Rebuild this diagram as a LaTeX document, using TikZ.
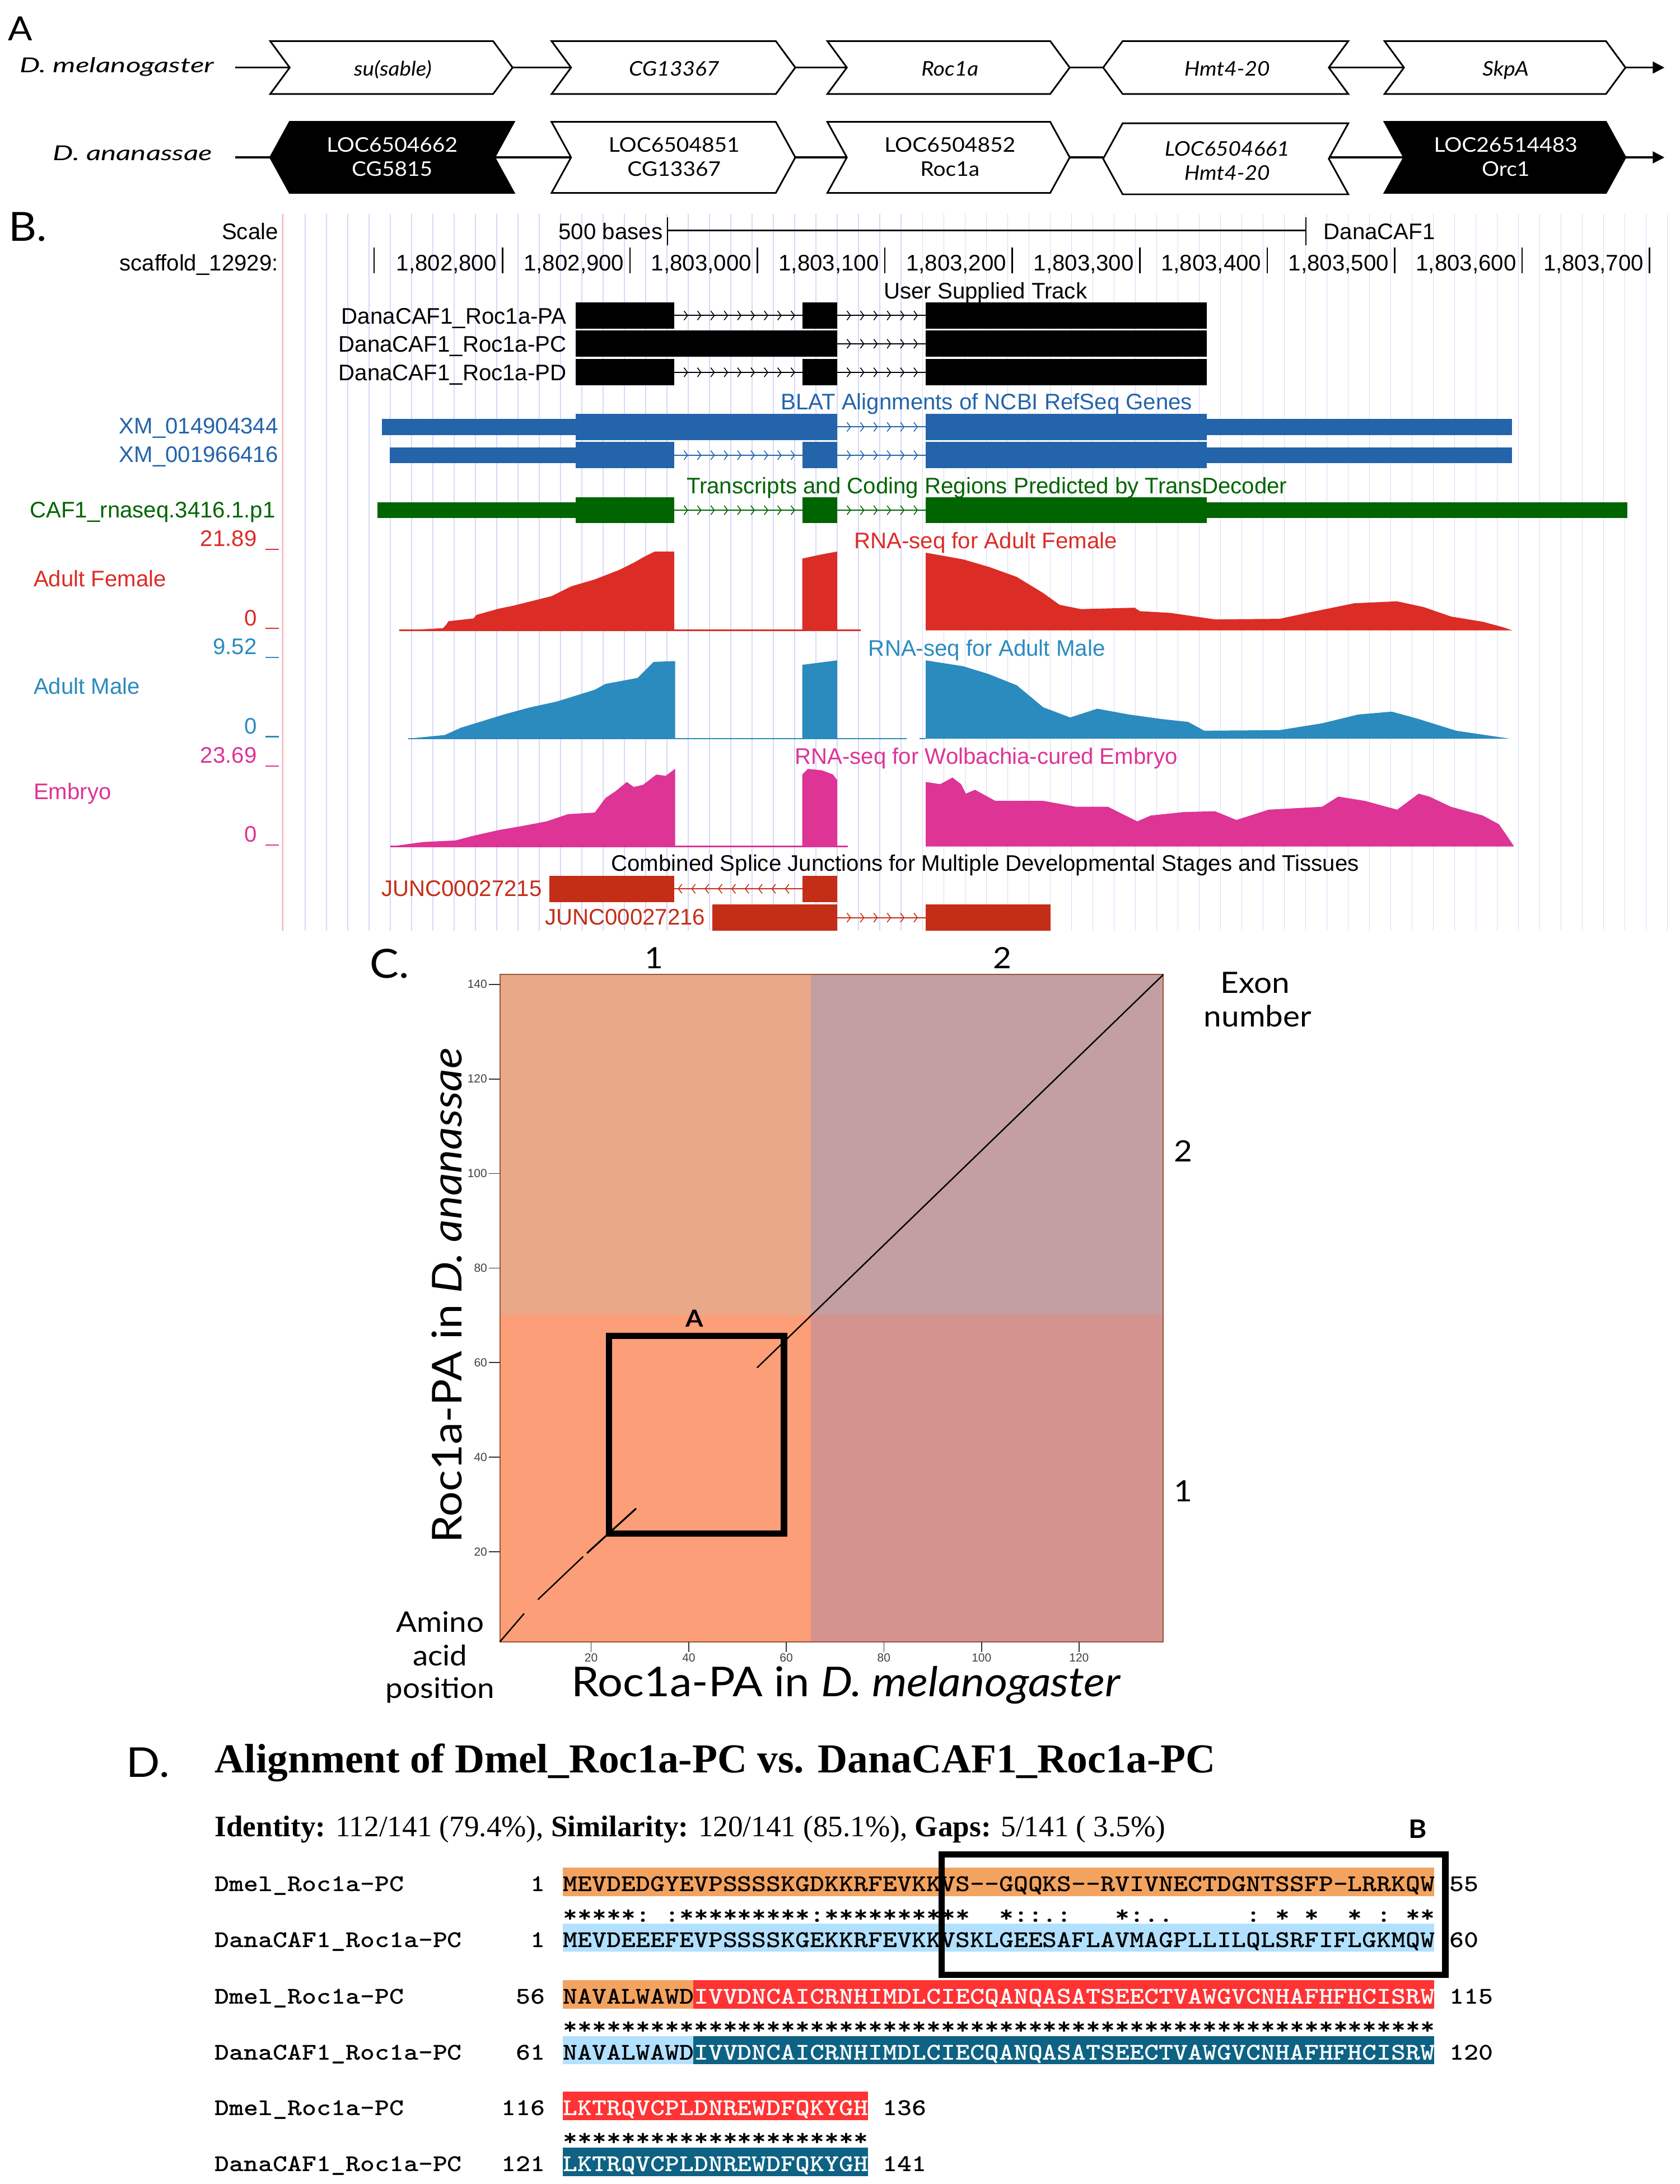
\documentclass[tikz,border=0pt]{standalone}
\usepackage{fontspec}
\setmainfont{Liberation Serif}
\newfontfamily\ucsc{Liberation Sans}
\newfontfamily\av[FakeStretch=1.08]{Lato}
\newfontfamily\avw[FakeStretch=1.4]{Lato}
\newfontfamily\mono[FakeStretch=1.15]{lmmonolt10-bold.otf}
\usetikzlibrary{arrows.meta}
\definecolor{gridc}{RGB}{216,216,250}
\definecolor{redline}{RGB}{245,170,170}
\definecolor{ublue}{RGB}{36,100,170}
\definecolor{ugreen}{RGB}{0,100,0}
\definecolor{fem}{RGB}{220,44,38}
\definecolor{mal}{RGB}{43,139,190}
\definecolor{emb}{RGB}{221,52,150}
\definecolor{junc}{RGB}{196,45,22}
\definecolor{qTL}{RGB}{233,168,136}
\definecolor{qTR}{RGB}{195,159,162}
\definecolor{qBL}{RGB}{252,158,120}
\definecolor{qBR}{RGB}{212,147,143}
\definecolor{qborder}{RGB}{150,85,60}
\definecolor{dmelA}{RGB}{243,163,96}
\definecolor{dmelB}{RGB}{255,51,51}
\definecolor{danaA}{RGB}{178,225,255}
\definecolor{danaB}{RGB}{14,98,131}
\tikzset{
  ut/.style={font=\ucsc\fontsize{11.5}{13}\selectfont, inner sep=0pt},
  gb/.style={draw=black, line width=0.85pt, line join=miter},
  conn/.style={line width=0.95pt},
  glab/.style={font=\av\fontsize{10.3}{12}\selectfont, inner sep=0pt, anchor=base},
  glabi/.style={font=\av\fontsize{10.3}{12}\selectfont\itshape, inner sep=0pt, anchor=base},
  panel/.style={font=\av\fontsize{20.5}{24}\selectfont, inner sep=0pt, anchor=base west},
  cl/.style={font=\av\fontsize{15}{18}\selectfont, inner sep=0pt},
  tick/.style={line width=0.5pt, black!80},
  ticklab/.style={font=\ucsc\fontsize{6}{7}\selectfont, text=black!75, inner sep=0pt},
  mn/.style={font=\mono\fontsize{12.29}{14}\selectfont, inner sep=0pt, anchor=base west},
  mnr/.style={font=\mono\fontsize{12.29}{14}\selectfont, inner sep=0pt, anchor=base east},
  hbox/.style={draw=black, line width=3.2pt}
}
% chevron boxes: x1, x2, ytop, ymid, ybot, style
\newcommand\chevR[6]{\draw[#6] (#1,#3) -- (#2,#3) -- (#2+14,#4) -- (#2,#5) -- (#1,#5) -- (#1+14,#4) -- cycle;}
\newcommand\chevL[6]{\draw[#6] (#1+14,#3) -- (#2+14,#3) -- (#2,#4) -- (#2+14,#5) -- (#1+14,#5) -- (#1,#4) -- cycle;}
% gene model parts: color, x1, x2, y
\newcommand\tkA[4]{\fill[#1] (#2,#4-9.4) rectangle (#3,#4+9.4);}
\newcommand\tnA[4]{\fill[#1] (#2,#4-5.7) rectangle (#3,#4+5.7);}
\newcommand\inR[4]{\draw[#1,line width=0.6pt] (#2,#4) -- (#3,#4);
  \pgfmathtruncatemacro\nch{(#3-#2)/9.6}
  \foreach \k in {1,...,\nch}{\draw[#1,line width=0.45pt] ({#2+\k*9.6-2.5},#4-3.3) -- ({#2+\k*9.6},#4) -- ({#2+\k*9.6-2.5},#4+3.3);}}
\newcommand\inL[4]{\draw[#1,line width=0.6pt] (#2,#4) -- (#3,#4);
  \pgfmathtruncatemacro\nch{(#3-#2)/9.6}
  \foreach \k in {1,...,\nch}{\draw[#1,line width=0.45pt] ({#2+\k*9.6-4},#4-3.3) -- ({#2+\k*9.6-6.5},#4) -- ({#2+\k*9.6-4},#4+3.3);}}
\begin{document}
\begin{tikzpicture}[x=0.025cm,y=-0.025cm]
\useasboundingbox (0,0) rectangle (1206,1568);
\fill[white] (0,0) rectangle (1206,1568);

% ================= Panel A =================
\node[font=\av\fontsize{17}{20}\selectfont, inner sep=0pt, anchor=base west] (pA) at (5.5,29) {A};
\node[font=\avw\fontsize{10.5}{12}\selectfont\itshape, inner sep=0pt, anchor=base east] (spm) at (154,51.9) {D. melanogaster};
\node[font=\avw\fontsize{10.5}{12}\selectfont\itshape, inner sep=0pt, anchor=base east] (spa) at (152.8,115.2) {D. ananassae};

% row 1
\chevR{194}{354}{29.5}{48.5}{67.5}{gb,fill=white}
\chevR{396}{557}{29.5}{48.5}{67.5}{gb,fill=white}
\chevR{594}{754}{29.5}{48.5}{67.5}{gb,fill=white}
\chevL{792}{954}{29.5}{48.5}{67.5}{gb,fill=white}
\chevR{994}{1153}{29.5}{48.5}{67.5}{gb,fill=white}
\coordinate (m0) at (169,48.5);
\coordinate (m1i) at (208,48.5); \coordinate (m1o) at (368,48.5);
\coordinate (m2i) at (410,48.5); \coordinate (m2o) at (571,48.5);
\coordinate (m3i) at (608,48.5); \coordinate (m3o) at (768,48.5);
\coordinate (m4i) at (792,48.5); \coordinate (m4o) at (954,48.5);
\coordinate (m5i) at (1008,48.5); \coordinate (m5o) at (1167,48.5);
\coordinate (mend) at (1195,48.5);
\draw[conn] (m0) -- (m1i);
\draw[conn] (m1o) -- (m2i);
\draw[conn] (m2o) -- (m3i);
\draw[conn] (m3o) -- (m4i);
\draw[conn] (m4o) -- (m5i);
\draw[conn,-{Triangle[length=6pt,width=6pt]}] (m5o) -- (mend);
\node[glabi] (g11) at (282,54.3) {su(sable)};
\node[glabi] (g12) at (484,54.3) {CG13367};
\node[glabi] (g13) at (682,54.3) {Roc1a};
\node[glabi] (g14) at (881,54.3) {Hmt4-20};
\node[glabi] (g15) at (1081,54.3) {SkpA};

% row 2
\chevL{194}{355}{87.5}{113}{138.5}{gb,fill=black}
\chevR{396}{557}{87.5}{113}{138.5}{gb,fill=white}
\chevR{594}{754}{87.5}{113}{138.5}{gb,fill=white}
\chevL{792}{954}{88.5}{114}{139.5}{gb,fill=white}
\chevR{994}{1153}{87.5}{113}{138.5}{gb,fill=black}
\coordinate (a0) at (169,113);
\coordinate (a1i) at (194,113); \coordinate (a1o) at (355,113);
\coordinate (a2i) at (410,113); \coordinate (a2o) at (571,113);
\coordinate (a3i) at (608,113); \coordinate (a3o) at (768,113);
\coordinate (a4i) at (792,113); \coordinate (a4o) at (954,113);
\coordinate (a5i) at (1008,113); \coordinate (a5o) at (1167,113);
\coordinate (aend) at (1195,113);
\draw[conn] (a0) -- (a1i);
\draw[conn] (a1o) -- (a2i);
\draw[conn] (a2o) -- (a3i);
\draw[conn] (a3o) -- (a4i);
\draw[conn] (a4o) -- (a5i);
\draw[conn,-{Triangle[length=6pt,width=6pt]}] (a5o) -- (aend);
\node[glab,text=white] (g21a) at (281.5,109.2) {LOC6504662};
\node[glab,text=white] (g21b) at (281.5,126.6) {CG5815};
\node[glab] (g22a) at (484,109.2) {LOC6504851};
\node[glab] (g22b) at (484,126.6) {CG13367};
\node[glab] (g23a) at (682,109.2) {LOC6504852};
\node[glab] (g23b) at (682,126.6) {Roc1a};
\node[glabi] (g24a) at (881,111.9) {LOC6504661};
\node[glabi] (g24b) at (881,129.3) {Hmt4-20};
\node[glab,text=white] (g25a) at (1081,109.2) {LOC26514483};
\node[glab,text=white] (g25b) at (1081,126.6) {Orc1};

% ================= Panel B =================
\node[panel] (pB) at (5.8,172.9) {B.};
\foreach \i in {0,...,64} {\draw[gridc,line width=0.35pt] ({219.1+15.28*\i},153.5) -- ({219.1+15.28*\i},668);}
\draw[redline,line width=0.45pt] (203,153.5) -- (203,668);

\node[ut,anchor=base east] (scl) at (200,172) {Scale};
\node[ut,anchor=base east] (scf) at (200,194.3) {scaffold\_12929:};
\node[ut,anchor=base east] (b500) at (476,172) {500 bases};
\coordinate (sb1) at (479.3,165.5); \coordinate (sb2) at (937.5,165.5);
\draw[line width=0.75pt] (sb1) -- (sb2);
\draw[line width=0.75pt] (479.3,156) -- (479.3,176);
\draw[line width=0.75pt] (937.5,156) -- (937.5,176);
\node[ut,anchor=base west] (dcaf) at (950,172) {DanaCAF1};
\draw[line width=0.75pt] (268.5,177.5) -- (268.5,196.2);
\foreach \k/\a/\b in {0/802/800,1/802/900,2/803/000,3/803/100,4/803/200,5/803/300,6/803/400,7/803/500,8/803/600,9/803/700}{
  \draw[line width=0.75pt] ({360.8+91.5*\k},177.5) -- ({360.8+91.5*\k},196.2);
  \node[ut,anchor=base east] (r\k) at ({360.8+91.5*\k-4},194.3) {1,\a,\b};
}

% user supplied track
\node[ut,anchor=base] (ust) at (707.5,214.4) {User Supplied Track};
\node[ut,anchor=base east] (tPA) at (407,232.5) {DanaCAF1\_Roc1a-PA};
\node[ut,anchor=base east] (tPC) at (407,252.6) {DanaCAF1\_Roc1a-PC};
\node[ut,anchor=base east] (tPD) at (407,273) {DanaCAF1\_Roc1a-PD};
% PA
\inR{black}{484}{576}{226.5}
\inR{black}{601}{664.6}{226.5}
\tkA{black}{413.5}{484}{226.5}
\tkA{black}{576}{601}{226.5}
\tkA{black}{664.6}{866.5}{226.5}
% PC
\inR{black}{601}{664.6}{246.8}
\tkA{black}{413.5}{601}{246.8}
\tkA{black}{664.6}{866.5}{246.8}
% PD
\inR{black}{484}{576}{267.3}
\inR{black}{601}{664.6}{267.3}
\tkA{black}{413.5}{484}{267.3}
\tkA{black}{576}{601}{267.3}
\tkA{black}{664.6}{866.5}{267.3}

% BLAT
\node[ut,anchor=base,text=ublue] (blat) at (708.3,294) {BLAT Alignments of NCBI RefSeq Genes};
\node[ut,anchor=base east,text=ublue] (xm1) at (200,311.5) {XM\_014904344};
\node[ut,anchor=base east,text=ublue] (xm2) at (200,332) {XM\_001966416};
\inR{ublue}{601}{664.6}{306.5}
\tnA{ublue}{274}{413.5}{306.5}
\tkA{ublue}{413.5}{601}{306.5}
\tkA{ublue}{664.6}{866.5}{306.5}
\tnA{ublue}{866.5}{1085.7}{306.5}
\inR{ublue}{484}{576}{326.8}
\inR{ublue}{601}{664.6}{326.8}
\tnA{ublue}{280}{413.5}{326.8}
\tkA{ublue}{413.5}{484}{326.8}
\tkA{ublue}{576}{601}{326.8}
\tkA{ublue}{664.6}{866.5}{326.8}
\tnA{ublue}{866.5}{1085.7}{326.8}

% TransDecoder
\node[ut,anchor=base,text=ugreen] (tdec) at (708.5,354.3) {Transcripts and Coding Regions Predicted by TransDecoder};
\node[ut,anchor=base east,text=ugreen] (caf) at (198,371.5) {CAF1\_rnaseq.3416.1.p1};
\inR{ugreen}{484}{576}{366.3}
\inR{ugreen}{601}{664.6}{366.3}
\tnA{ugreen}{271}{413.5}{366.3}
\tkA{ugreen}{413.5}{484}{366.3}
\tkA{ugreen}{576}{601}{366.3}
\tkA{ugreen}{664.6}{866.5}{366.3}
\tnA{ugreen}{866.5}{1168.5}{366.3}

% RNA-seq female
\node[ut,anchor=base,text=fem] (rf) at (707.7,394) {RNA-seq for Adult Female};
\node[ut,anchor=base east,text=fem] (vf1) at (184.6,392.1) {21.89};
\node[ut,anchor=base east,text=fem] (vf0) at (184.6,449.4) {0};
\draw[fem,line width=0.7pt] (190.6,394.3) -- (200.2,394.3);
\draw[fem,line width=0.7pt] (190.6,451) -- (200.2,451);
\node[ut,anchor=base west,text=fem] (lf) at (23.9,421.2) {Adult Female};
\draw[fem,line width=0.8pt] (286.6,452.5) -- (618,452.5);
\fill[fem] (286.6,452.5) -- (300,452) -- (318,451) -- (320,449) -- (322,446) -- (340,444) -- (342,441.5) -- (358,437) -- (368,435) -- (380,432) -- (396,428) -- (410,421) -- (427,416) -- (445,409) -- (455,404) -- (462,400) -- (470,396) -- (484,396) -- (484,452.5) -- cycle;
\fill[fem] (576,452.5) -- (576,401) -- (590,398) -- (601,396) -- (601,452.5) -- cycle;
\fill[fem] (664.6,452.5) -- (664.6,396.8) -- (691.5,401.6) -- (710,407) -- (730,414.2) -- (749,425.8) -- (760.7,434.2) -- (776,437.3) -- (814.6,436.3) -- (818.4,438.8) -- (840,440) -- (872.3,444.7) -- (918.5,444.3) -- (941.5,439.4) -- (972.3,433.1) -- (1003,431.7) -- (1022.3,435.9) -- (1041.6,442.6) -- (1064.6,446.4) -- (1078,450) -- (1085.8,452.5) -- cycle;

% RNA-seq male
\node[ut,anchor=base,text=mal] (rm) at (708.5,471) {RNA-seq for Adult Male};
\node[ut,anchor=base east,text=mal] (vm1) at (184.6,469.9) {9.52};
\node[ut,anchor=base east,text=mal] (vm0) at (184.6,527) {0};
\draw[mal,line width=0.7pt] (190.6,472) -- (200.2,472);
\draw[mal,line width=0.7pt] (190.6,528.8) -- (200.2,528.8);
\node[ut,anchor=base west,text=mal] (lm) at (23.9,498.3) {Adult Male};
\draw[mal,line width=0.8pt] (293.1,530.3) -- (651,530.3);
\draw[mal,line width=0.8pt] (660,530.3) -- (664.6,530.3);
\fill[mal] (293.1,530.3) -- (319.3,527.7) -- (330.8,522.5) -- (361.6,513) -- (380,508) -- (400,503.6) -- (427,495.2) -- (434.7,491) -- (457.8,486.7) -- (469.3,475.2) -- (484.7,474.6) -- (484.7,530.3) -- cycle;
\fill[mal] (576,530.3) -- (576,477.3) -- (601,474.1) -- (601,530.3) -- cycle;
\fill[mal] (664.6,530.3) -- (664.6,474.1) -- (691.5,478.3) -- (710,484) -- (730,492) -- (749,507.8) -- (768.4,515.1) -- (787.7,508.8) -- (810.7,513) -- (833.8,516.2) -- (853,518.3) -- (864.6,524.6) -- (918.5,524.2) -- (949.2,519.3) -- (975,513) -- (999.2,510.9) -- (1018.5,516.2) -- (1045.4,524.6) -- (1083.9,530.3) -- cycle;

% RNA-seq embryo
\node[ut,anchor=base,text=emb] (re) at (708,548.7) {RNA-seq for Wolbachia-cured Embryo};
\node[ut,anchor=base east,text=emb] (ve1) at (184.6,547.7) {23.69};
\node[ut,anchor=base east,text=emb] (ve0) at (184.6,604.5) {0};
\draw[emb,line width=0.7pt] (190.6,549.9) -- (200.2,549.9);
\draw[emb,line width=0.7pt] (190.6,606.6) -- (200.2,606.6);
\node[ut,anchor=base west,text=emb] (le) at (23.9,574) {Embryo};
\draw[emb,line width=0.8pt] (280.4,607.7) -- (608.7,607.7);
\fill[emb] (280.4,607.7) -- (303.9,604.5) -- (327,603.4) -- (340,600) -- (357.8,596) -- (375,593) -- (392.4,589.7) -- (407.8,584.5) -- (427,583.4) -- (434.7,572.9) -- (442,568) -- (450,561.4) -- (455,565) -- (461.6,563.5) -- (471.2,556.1) -- (478,557) -- (484.7,551.9) -- (484.7,607.7) -- cycle;
\fill[emb] (576,607.7) -- (576,556) -- (580,552) -- (590,553) -- (598,556) -- (601,560) -- (601,607.7) -- cycle;
\fill[emb] (664.6,607.7) -- (664.6,561.4) -- (675,563) -- (683.8,558.2) -- (690,563) -- (693.4,569.8) -- (700,567) -- (714.6,575) -- (749.2,575) -- (772.3,579.2) -- (795.4,579.2) -- (816.5,589.7) -- (826.1,585.5) -- (850,583) -- (872.3,582.4) -- (887.7,588.7) -- (910.8,581.3) -- (949.2,579.2) -- (960.8,571.9) -- (980,575) -- (1003.1,581.3) -- (1018.5,569.8) -- (1026.2,571.9) -- (1041.6,579.2) -- (1064.6,585.5) -- (1076.2,591.8) -- (1082,600.2) -- (1087,607.7) -- cycle;

% splice junctions
\node[ut,anchor=base] (csj) at (707.3,625.5) {Combined Splice Junctions for Multiple Developmental Stages and Tissues};
\node[ut,anchor=base east,text=junc] (j1) at (389.3,643.5) {JUNC00027215};
\node[ut,anchor=base east,text=junc] (j2) at (506.6,664) {JUNC00027216};
\inL{junc}{484}{576}{638.1}
\tkA{junc}{394.3}{484}{638.1}
\tkA{junc}{576}{601}{638.1}
\inR{junc}{601}{664.6}{658.8}
\tkA{junc}{511.6}{601}{658.8}
\tkA{junc}{664.6}{754.2}{658.8}

% ================= Panel C =================
\node[panel] (pC) at (265.2,702.3) {C.};
\fill[qTL] (358.9,699.7) rectangle (582.3,944.1);
\fill[qTR] (582.3,699.7) rectangle (835.2,944.1);
\fill[qBL] (358.9,944.1) rectangle (582.3,1178.7);
\fill[qBR] (582.3,944.1) rectangle (835.2,1178.7);
\draw[qborder,line width=0.6pt] (358.9,699.7) rectangle (835.2,1178.7);
\foreach \v/\yy in {20/1114.1,40/1046.2,60/978.3,80/910.4,100/842.5,120/774.6,140/706.7}{
  \draw[tick] (351,\yy) -- (358.9,\yy);
  \node[ticklab,anchor=east] (yt\v) at (350,\yy) {\v};
}
\foreach \v/\xx in {20/424.4,40/494.5,60/564.5,80/634.6,100/704.7,120/774.7}{
  \draw[tick] (\xx,1178.7) -- (\xx,1186);
  \node[ticklab,anchor=north] (xt\v) at (\xx,1187) {\v};
}
\draw[line width=0.7pt] (358.9,1178.7) -- (376.3,1158.4);
\draw[line width=0.7pt] (386.2,1148.4) -- (418.7,1117.5);
\draw[line width=0.9pt] (421.4,1115.1) -- (456.7,1083);
\draw[line width=0.7pt] (543.5,982) -- (835.2,699.7);
\draw[hbox] (437.3,959.2) rectangle (562.9,1101.1);
\node[font=\av\fontsize{12}{14}\selectfont\bfseries, inner sep=0pt] (lA) at (498.7,946.6) {A};
\node[cl] (ex1t) at (469.6,687.8) {1};
\node[cl] (ex2t) at (719.8,687.8) {2};
\node[cl] (ex2r) at (849.5,826.5) {2};
\node[cl] (ex1r) at (849.5,1070.5) {1};
\node[cl] (exon) at (901,705.5) {Exon};
\node[cl] (numb) at (903,729.5) {number};
\node[font=\av\fontsize{21}{24}\selectfont, inner sep=0pt, rotate=90] (ylab) at (321,930) {Roc1a-PA in \textit{D. ananassae}};
\node[font=\av\fontsize{21}{24}\selectfont, inner sep=0pt, anchor=base] (xlab) at (607.5,1218) {Roc1a-PA in \textit{D. melanogaster}};
\node[font=\av\fontsize{14.5}{17}\selectfont, inner sep=0pt] (am1) at (316,1164.4) {Amino};
\node[font=\av\fontsize{14.5}{17}\selectfont, inner sep=0pt] (am2) at (316,1188.6) {acid};
\node[font=\av\fontsize{14.5}{17}\selectfont, inner sep=0pt] (am3) at (316,1213.3) {position};

% ================= Panel D =================
\node[panel,font=\av\fontsize{21}{24}\selectfont] (pD) at (90.4,1275.7) {D.};
\node[font=\rmfamily\fontsize{21}{24}\selectfont\bfseries, inner sep=0pt, anchor=base west] (title) at (154,1272.5) {Alignment of Dmel\_Roc1a-PC vs. DanaCAF1\_Roc1a-PC};
\node[font=\rmfamily\fontsize{15.2}{18}\selectfont, inner sep=0pt, anchor=base west] (ident) at (154,1318.6) {\textbf{Identity:} 112/141 (79.4\%), \textbf{Similarity:} 120/141 (85.1\%), \textbf{Gaps:} 5/141 ( 3.5\%)};
\node[font=\av\fontsize{13}{15}\selectfont\bfseries, inner sep=0pt] (lB) at (1018,1313.2) {B};

% bands
\fill[dmelA] (404,1341) rectangle (1029.8,1361.3);
\fill[danaA] (404,1381) rectangle (1029.8,1401.3);
\fill[dmelA] (404,1421.7) rectangle (497.9,1442);
\fill[dmelB] (497.9,1421.7) rectangle (1029.8,1442);
\fill[danaA] (404,1461.8) rectangle (497.9,1482.1);
\fill[danaB] (497.9,1461.8) rectangle (1029.8,1482.1);
\fill[dmelB] (404,1501.7) rectangle (623,1522);
\fill[danaB] (404,1542) rectangle (623,1562.3);

% names and numbers
\node[mn] (n1) at (154,1358) {Dmel\_Roc1a-PC};
\node[mn] (n2) at (154,1398) {DanaCAF1\_Roc1a-PC};
\node[mn] (n3) at (154,1438.7) {Dmel\_Roc1a-PC};
\node[mn] (n4) at (154,1478.8) {DanaCAF1\_Roc1a-PC};
\node[mn] (n5) at (154,1518.7) {Dmel\_Roc1a-PC};
\node[mn] (n6) at (154,1559) {DanaCAF1\_Roc1a-PC};
\node[mnr] (s1) at (391.6,1358) {1};
\node[mnr] (s2) at (391.6,1398) {1};
\node[mnr] (s3) at (391.6,1438.7) {56};
\node[mnr] (s4) at (391.6,1478.8) {61};
\node[mnr] (s5) at (391.6,1518.7) {116};
\node[mnr] (s6) at (391.6,1559) {121};
% sequences
\node[mn] (q1) at (404,1358) {MEVDEDGYEVPSSSSKGDKKRFEVKKVS-{}-GQQKS-{}-RVIVNECTDGNTSSFP-LRRKQW};
\node[mn] (c1) at (404,1380) {*****:~:*********:**********~~*::.:~~~*:..~~~~~:~*~*~~*~:~**};
\node[mn] (q2) at (404,1398) {MEVDEEEFEVPSSSSKGEKKRFEVKKVSKLGEESAFLAVMAGPLLILQLSRFIFLGKMQW};
\node[mn] (q3a) at (404,1438.7) {NAVALWAWD};
\node[mn,text=white] (q3b) at (497.9,1438.7) {IVVDNCAICRNHIMDLCIECQANQASATSEECTVAWGVCNHAFHFHCISRW};
\node[mn] (c2) at (404,1460.5) {************************************************************};
\node[mn] (q4a) at (404,1478.8) {NAVALWAWD};
\node[mn,text=white] (q4b) at (497.9,1478.8) {IVVDNCAICRNHIMDLCIECQANQASATSEECTVAWGVCNHAFHFHCISRW};
\node[mn,text=white] (q5) at (404,1518.7) {LKTRQVCPLDNREWDFQKYGH};
\node[mn] (c3) at (404,1540.5) {*********************};
\node[mn,text=white] (q6) at (404,1559) {LKTRQVCPLDNREWDFQKYGH};
\node[mn] (e1) at (1040.4,1358) {55};
\node[mn] (e2) at (1040.4,1398) {60};
\node[mn] (e3) at (1040.4,1438.7) {115};
\node[mn] (e4) at (1040.4,1478.8) {120};
\node[mn] (e5) at (633.4,1518.7) {136};
\node[mn] (e6) at (633.4,1559) {141};
\draw[hbox] (676.1,1331.3) rectangle (1037.7,1417.9);
\end{tikzpicture}
\end{document}
